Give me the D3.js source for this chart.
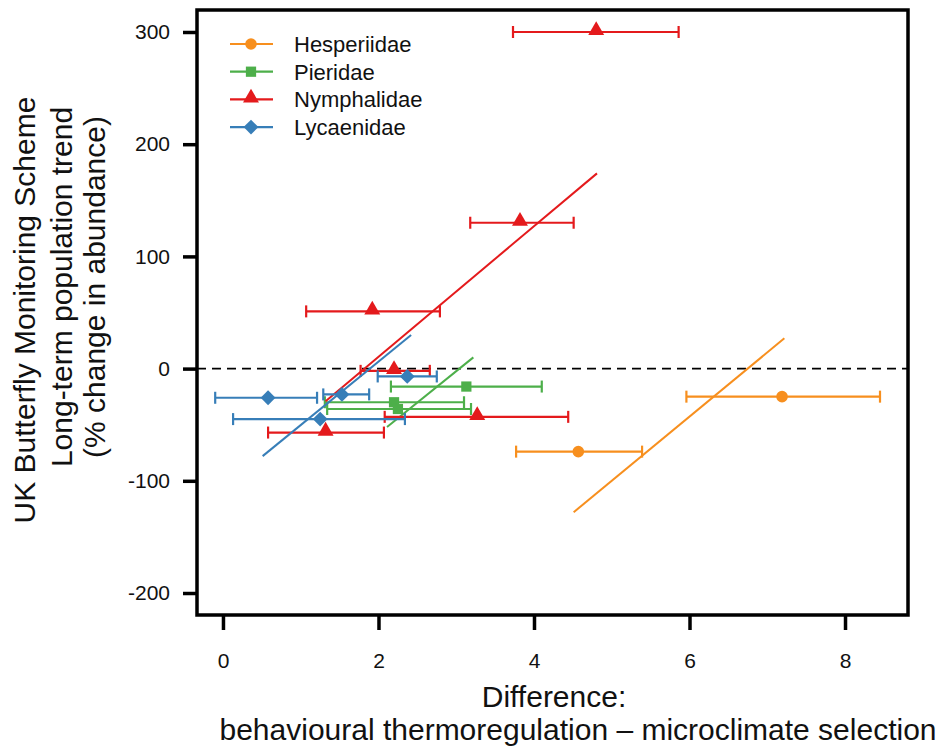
<!DOCTYPE html>
<html>
<head>
<meta charset="utf-8">
<script src="https://cdn.jsdelivr.net/npm/d3@7"></script>
<style>
  body { margin: 0; background: #fff; }
  text { font-family: "Liberation Sans", Arial, sans-serif; }
</style>
</head>
<body>
<div id="chart"></div>
<script>
// family names, in legend order
var families = ['Hesperiidae', 'Pieridae', 'Nymphalidae', 'Lycaenidae'];
var colors = ['#f78f1e', '#4daf4a', '#e41a1c', '#377eb8'];
var shapes = [d3.symbolCircle, d3.symbolSquare, d3.symbolTriangle, d3.symbolSquare];

// species means (x = difference, y = % change) and x error bars
var hespX = [7.19, 4.57];
var hespY = [-25, -74];
var hespLo = [5.96, 3.77];
var hespHi = [8.45, 5.39];

var pierX = [3.13, 2.20, 2.25];
var pierY = [-16, -30, -36];
var pierLo = [2.16, 1.31, 1.34];
var pierHi = [4.10, 3.10, 3.19];

var nymX = [4.80, 3.82, 1.92, 2.20, 3.27, 1.32];
var nymY = [300, 130, 51, -2, -43, -57];
var nymLo = [3.73, 3.18, 1.07, 1.77, 2.08, 0.58];
var nymHi = [5.86, 4.51, 2.79, 2.66, 4.44, 2.07];

var lycX = [0.58, 1.53, 2.37, 1.25];
var lycY = [-26, -23, -7, -45];
var lycLo = [-0.10, 1.29, 1.99, 0.13];
var lycHi = [1.21, 1.88, 2.75, 2.34];

// fitted lines, start and end points
var hespFit = [[4.51, -128], [7.22, 27]];
var pierFit = [[2.11, -52], [3.22, 10]];
var nymFit = [[1.32, -29], [4.81, 174]];
var lycFit = [[0.51, -78], [2.42, 30]];

var xTicks = [0, 2, 4, 6, 8];
var yTicks = [-200, -100, 0, 100, 200, 300];

(function() {
  var width = 944;
  var height = 751;
  var pLeft = 197, pRight = 908, pTop = 10, pBottom = 615;

  var svg = d3.select('#chart')
    .append('svg')
    .attr('width', width)
    .attr('height', height);

  var x = d3.scaleLinear().domain([-0.334, 8.81]).range([pLeft, pRight]);
  var y = d3.scaleLinear().domain([319.6, -219.6]).range([pTop, pBottom]);

  var groups = [
    {x: hespX, y: hespY, lo: hespLo, hi: hespHi, fit: hespFit},
    {x: pierX, y: pierY, lo: pierLo, hi: pierHi, fit: pierFit},
    {x: nymX, y: nymY, lo: nymLo, hi: nymHi, fit: nymFit},
    {x: lycX, y: lycY, lo: lycLo, hi: lycHi, fit: lycFit}
  ];

  // zero line
  svg.append('line')
    .attr('x1', pLeft).attr('x2', pRight)
    .attr('y1', y(0)).attr('y2', y(0))
    .attr('stroke', '#000')
    .attr('stroke-width', 1.6)
    .attr('stroke-dasharray', '9,6');

  var line = d3.line()
    .x(function(d) { return x(d[0]); })
    .y(function(d) { return y(d[1]); });

  // symbol size, and a tweak so the marker sits like the original
  function symSize(i) {
    return [105, 105, 110, 110][i];
  }
  function symTransform(cx, cy, i) {
    if (i == 2) return 'translate(' + cx + ',' + (cy - 1.5) + ')';
    if (i == 3) return 'translate(' + cx + ',' + cy + ') rotate(45)';
    return 'translate(' + cx + ',' + cy + ')';
  }

  groups.forEach(function(g, i) {
    var col = colors[i];
    var grp = svg.append('g');

    grp.append('path')
      .attr('d', line(g.fit))
      .attr('fill', 'none')
      .attr('stroke', col)
      .attr('stroke-width', 2);

    var pts = g.x.map(function(v, j) {
      return {x: v, y: g.y[j], lo: g.lo[j], hi: g.hi[j]};
    });

    var bars = grp.selectAll('.bar').data(pts).enter().append('g');
    bars.append('line')
      .attr('x1', function(d) { return x(d.lo); })
      .attr('x2', function(d) { return x(d.hi); })
      .attr('y1', function(d) { return y(d.y); })
      .attr('y2', function(d) { return y(d.y); })
      .attr('stroke', col).attr('stroke-width', 2.2);
    // caps
    ['lo', 'hi'].forEach(function(k) {
      bars.append('line')
        .attr('x1', function(d) { return x(d[k]); })
        .attr('x2', function(d) { return x(d[k]); })
        .attr('y1', function(d) { return y(d.y) - 6; })
        .attr('y2', function(d) { return y(d.y) + 6; })
        .attr('stroke', col).attr('stroke-width', 2.2);
    });

    var sym = d3.symbol().type(shapes[i]).size(symSize(i));
    grp.selectAll('.pt').data(pts).enter().append('path')
      .attr('d', sym)
      .attr('transform', function(d) { return symTransform(x(d.x), y(d.y), i); })
      .attr('fill', col);
  });

  // axes
  var yAxis = d3.axisLeft(y).tickValues(yTicks).tickFormat(String)
    .tickSize(14).tickPadding(13);
  var ya = svg.append('g')
    .attr('transform', 'translate(' + pLeft + ',0)')
    .call(yAxis);
  ya.attr('font-size', 21).attr('font-family', '"Liberation Sans", Arial, sans-serif');
  ya.select('.domain').remove();
  ya.selectAll('.tick line').attr('stroke-width', 3.5);
  ya.selectAll('.tick text').attr('fill', '#111');

  var xAxis = d3.axisBottom(x).tickValues(xTicks).tickFormat(String)
    .tickSize(15).tickPadding(23);
  var xa = svg.append('g')
    .attr('transform', 'translate(0,' + pBottom + ')')
    .call(xAxis);
  xa.attr('font-size', 21).attr('font-family', '"Liberation Sans", Arial, sans-serif');
  xa.select('.domain').remove();
  xa.selectAll('.tick line').attr('stroke-width', 3.5);
  xa.selectAll('.tick text').attr('fill', '#111');

  // frame
  svg.append('rect')
    .attr('x', pLeft).attr('y', pTop)
    .attr('width', pRight - pLeft).attr('height', pBottom - pTop)
    .attr('fill', 'none')
    .attr('stroke', '#000')
    .attr('stroke-width', 3.5);

  // legend
  var legend = svg.append('g');
  families.forEach(function(name, i) {
    var ly = 44 + i * 27.7;
    legend.append('line')
      .attr('x1', 230).attr('x2', 273)
      .attr('y1', ly).attr('y2', ly)
      .attr('stroke', colors[i]).attr('stroke-width', 2.2);
    legend.append('path')
      .attr('d', d3.symbol().type(shapes[i]).size(symSize(i)))
      .attr('transform', symTransform(251, ly, i))
      .attr('fill', colors[i]);
    legend.append('text')
      .attr('x', 294).attr('y', ly + 8)
      .attr('font-size', 22)
      .attr('fill', '#111')
      .text(name);
  });

  // axis titles
  svg.append('text')
    .attr('x', 554).attr('y', 707)
    .attr('text-anchor', 'middle')
    .attr('font-size', 30)
    .attr('fill', '#111')
    .text('Difference:');
  svg.append('text')
    .attr('x', 578).attr('y', 740)
    .attr('text-anchor', 'middle')
    .attr('font-size', 30)
    .attr('fill', '#111')
    .text('behavioural thermoregulation \u2013 microclimate selection');

  var yTitle = [
    {t: 'UK Butterfly Monitoring Scheme', x: 35, c: 310},
    {t: 'Long-term population trend', x: 72, c: 287},
    {t: '(% change in abundance)', x: 105, c: 287}
  ];
  yTitle.forEach(function(d) {
    svg.append('text')
      .attr('transform', 'translate(' + d.x + ',' + d.c + ') rotate(-90)')
      .attr('text-anchor', 'middle')
      .attr('font-size', 30)
      .attr('fill', '#111')
      .text(d.t);
  });
})();
</script>
</body>
</html>
